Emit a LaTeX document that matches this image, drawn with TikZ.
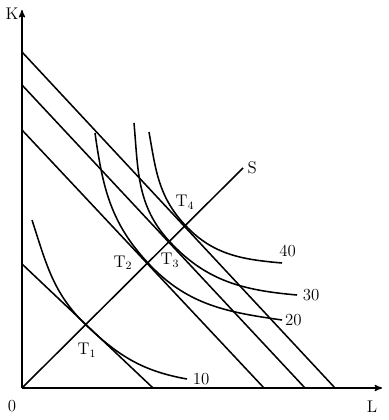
\documentclass[tikz,border=0pt]{standalone}
\usetikzlibrary{arrows}
\usetikzlibrary{positioning}
\tikzset{
    axis/.style={
           ->, >=stealth',
           line width=0.9pt,
           },
    isocost/.style={
           line width=1.1pt,
           },
    isoquant/.style={
           line width=1.1pt,
           },
    lbl/.style={
           font=\large,
           inner sep=1pt,
           },
}

\begin{document}
\begin{tikzpicture}[x=0.025cm, y=0.025cm]
   \useasboundingbox (-22,-32) rectangle (366,388);

   % axes
   \coordinate (O) at (0,0);
   \coordinate (KTOP) at (0,378);
   \coordinate (LEND) at (360,0);
   \draw[axis] (O) -- (KTOP);
   \draw[axis] (O) -- (LEND);
   \node[lbl] (KLABEL) at (-10,374) {K};
   \node[lbl] (OLABEL) at (-10,-18) {0};
   \node[lbl] (LLABEL) at (350,-19) {L};

   % isocost lines (K intercept -> L intercept)
   \coordinate (A1) at (0,124);   \coordinate (B1) at (131,0);
   \coordinate (A2) at (0,258);   \coordinate (B2) at (242,0);
   \coordinate (A3) at (0,303);   \coordinate (B3) at (283,0);
   \coordinate (A4) at (0,336);   \coordinate (B4) at (313,0);
   \draw[isocost] (A1) -- (B1);
   \draw[isocost] (A2) -- (B2);
   \draw[isocost] (A3) -- (B3);
   \draw[isocost] (A4) -- (B4);

   % expansion path
   \coordinate (SEND) at (221,220);
   \draw[isocost] (O) -- (SEND);
   \node[lbl, right=2pt of SEND] (SLABEL) {S};

   % tangent points
   \coordinate (T1) at (65,62);
   \coordinate (T2) at (126,125);
   \coordinate (T3) at (148,146);
   \coordinate (T4) at (163,163);
   \node[lbl, below=11pt of T1] (T1LABEL) {T$_1$};
   \node[lbl, left=10pt of T2] (T2LABEL) {T$_2$};
   \node[lbl, below=7pt of T3] (T3LABEL) {T$_3$};
   \node[lbl, above=10pt of T4] (T4LABEL) {T$_4$};

   % isoquants
   \coordinate (Q1S) at (10,168);  \coordinate (Q1E) at (165,9);
   \coordinate (Q2S) at (73,255);  \coordinate (Q2E) at (260,68);
   \coordinate (Q3S) at (112,265); \coordinate (Q3E) at (275,93);
   \coordinate (Q4S) at (127,256); \coordinate (Q4E) at (260,125);
   \draw[isoquant] (Q1S) to[out=-72,in=136.5] (T1) to[out=-43.5,in=170] (Q1E);
   \draw[isoquant] (Q2S) to[out=-82,in=133] (T2) to[out=-47,in=172] (Q2E);
   \draw[isoquant] (Q3S) to[out=-85,in=133] (T3) to[out=-47,in=175] (Q3E);
   \draw[isoquant] (Q4S) to[out=-80,in=133] (T4) to[out=-47,in=175] (Q4E);
   \node[lbl, right=3pt of Q1E] (N10) {10};
   \node[lbl, right=1pt of Q2E] (N20) {20};
   \node[lbl, right=3pt of Q3E] (N30) {30};
   \node[lbl, above right=3pt and -3pt of Q4E] (N40) {40};

\end{tikzpicture}
\end{document}
